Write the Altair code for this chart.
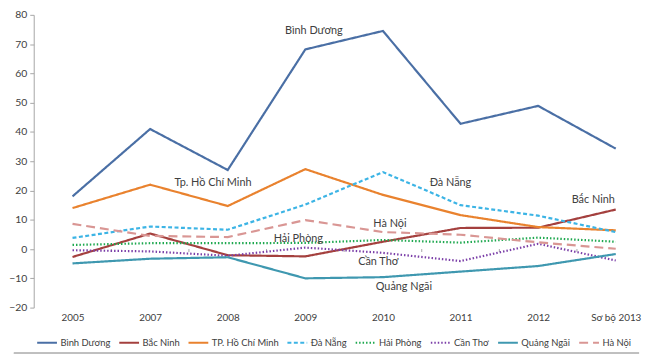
import altair as alt
import pandas as pd

categories = ["2005", "2007", "2008", "2009", "2010", "2011", "2012", "Sơ bộ 2013"]
series_names = ["Bình Dương", "Bắc Ninh", "TP. Hồ Chí Minh", "Đà Nẵng",
                "Hải Phòng", "Cần Thơ", "Quảng Ngãi", "Hà Nội"]

binh_duong = [18.0, 41.0, 27.0, 68.2, 74.5, 42.8, 48.9, 34.3]
bac_ninh = [-2.7, 5.3, -2.1, -2.5, 2.5, 7.2, 7.3, 13.5]
hcm = [14.0, 22.0, 14.7, 27.3, 18.5, 11.6, 7.5, 6.4]
da_nang = [3.8, 7.7, 6.6, 15.2, 26.3, 15.0, 11.4, 5.8]
hai_phong = [1.4, 2.0, 2.0, 2.1, 3.1, 2.2, 3.9, 2.5]
can_tho = [-0.4, -0.8, -2.3, 0.5, -1.3, -4.1, 1.8, -3.9]
quang_ngai = [-4.9, -3.3, -2.8, -10.0, -9.6, -7.7, -5.8, -1.7]
ha_noi = [8.6, 4.5, 4.1, 9.9, 5.8, 4.9, 2.3, 0.1]

all_values = [binh_duong, bac_ninh, hcm, da_nang, hai_phong, can_tho, quang_ngai, ha_noi]

colors = ["#4A6FA5", "#A4403E", "#E9822E", "#3CB4E5",
          "#1EA84F", "#7B3FA8", "#3F98B0", "#D99694"]
dashes = [[1, 0], [1, 0], [1, 0], [4, 2.5], [1.5, 2], [1.5, 2], [1, 0], [9, 5]]

# annotation labels (text, x position in category index units, y value)
ann_text = ["Bình Dương", "Tp. Hồ Chí Minh", "Đà Nẵng", "Bắc Ninh",
            "Hà Nội", "Hải Phòng", "Cần Thơ", "Quảng Ngãi"]
ann_x = [3.11, 1.81, 4.87, 6.71, 4.09, 2.91, 3.94, 4.27]
ann_y = [74.4, 22.4, 22.4, 16.8, 8.5, 3.5, -4.4, -13.0]

boundaries = [0.5, 1.5, 2.5, 3.5, 4.5, 5.5, 6.5]

rows = []
for name, vals in zip(series_names, all_values):
    for i, (c, v) in enumerate(zip(categories, vals)):
        rows.append({"series": name, "i": i, "cat": c, "value": v})
df = pd.DataFrame(rows)

ann_df = pd.DataFrame({"label": ann_text, "xi": ann_x, "yv": ann_y})
tick_df = pd.DataFrame({"b": boundaries})

FONT = "Lato"
TXT = "#404040"
W, H = 612, 296

label_expr = "[" + ",".join("'" + c + "'" for c in categories) + "][datum.value]"

xscale = alt.Scale(domain=[-0.5, 7.3], nice=False, zero=False)
yscale = alt.Scale(domain=[-20, 80], nice=False, zero=False)

x_enc = alt.X("i:Q", scale=xscale,
              axis=alt.Axis(values=list(range(len(categories))), labelExpr=label_expr,
                            tickCount=20,
                            title=None, grid=False, domain=False, ticks=False,
                            labelPadding=5, labelFontSize=10, labelColor=TXT,
                            labelFont=FONT))
y_enc = alt.Y("value:Q", scale=yscale,
              axis=alt.Axis(values=list(range(-20, 81, 10)), tickCount=20, title=None,
                            tickSize=4, labelPadding=3, gridColor="#C4C4C4",
                            domainColor="#A6A6A6", tickColor="#A6A6A6",
                            labelOverlap=False,
                            labelFontSize=10.5, labelColor=TXT, labelFont=FONT))

legend = alt.Legend(title=None, orient="none", legendX=2, legendY=320,
                    direction="horizontal", columns=8, symbolType="stroke",
                    symbolSize=400, symbolStrokeWidth=2.2, labelFontSize=9.5,
                    labelFont=FONT, labelColor=TXT, columnPadding=4,
                    labelOffset=2, padding=0)

lines = alt.Chart(df).mark_line(strokeWidth=2.2).encode(
    x=x_enc,
    y=y_enc,
    color=alt.Color("series:N", scale=alt.Scale(domain=series_names, range=colors),
                    legend=legend),
    strokeDash=alt.StrokeDash("series:N",
                              scale=alt.Scale(domain=series_names, range=dashes),
                              legend=legend),
    detail="series:N",
)

zero_ticks = alt.Chart(tick_df).mark_rule(color="#A6A6A6", strokeWidth=1).encode(
    x=alt.X("b:Q", scale=xscale),
    y=alt.datum(0),
    y2=alt.datum(-1),
)

labels = alt.Chart(ann_df).mark_text(font=FONT, fontSize=11, color=TXT).encode(
    x=alt.X("xi:Q", scale=xscale),
    y=alt.Y("yv:Q", scale=yscale),
    text="label:N",
)

frame = alt.Chart(tick_df).mark_rule(color="#BFBFBF", strokeWidth=1).encode(
    x=alt.value(-20), x2=alt.value(W), y=alt.value(342),
)

chart = alt.layer(zero_ticks, lines, labels, frame).properties(
    width=W, height=H,
    padding={"left": 0, "top": 0, "right": 0, "bottom": 0},
).configure_view(stroke=None)

chart.save("out.html", embed_options={"renderer": "svg", "actions": False})
